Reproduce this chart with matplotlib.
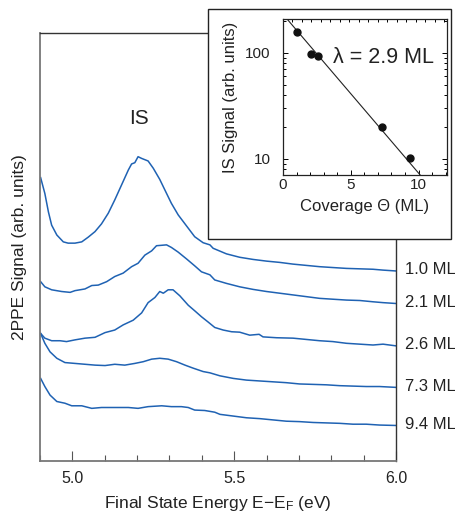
import numpy as np
import matplotlib
matplotlib.use("Agg")
import matplotlib.pyplot as plt
from matplotlib.ticker import MultipleLocator, LogLocator, NullFormatter, FixedLocator
from matplotlib.patches import Rectangle
import matplotlib.transforms as mtransforms

plt.rcParams['font.family'] = ['Liberation Sans', 'DejaVu Sans']
plt.rcParams['mathtext.fontset'] = 'custom'
plt.rcParams['mathtext.rm'] = 'Liberation Sans'
plt.rcParams['mathtext.it'] = 'Liberation Sans:italic'

TEXT = '#222222'
BLUE = '#1f62b3'

# 2PPE spectra (energy in eV, signal in arb. units, offset per coverage)
e_10 = [4.902, 4.915, 4.926, 4.936, 4.952, 4.972, 4.987, 5.008, 5.029, 5.049, 5.070, 5.090,
        5.111, 5.131, 5.152, 5.173, 5.183, 5.193, 5.203, 5.214, 5.234, 5.250, 5.270, 5.286,
        5.306, 5.327, 5.353, 5.378, 5.404, 5.425, 5.435, 5.476, 5.517, 5.558, 5.600, 5.641,
        5.682, 5.723, 5.764, 5.805, 5.847, 5.888, 5.929, 5.960, 6.000]
s_10 = [66.2, 62.5, 58.2, 55.1, 52.8, 51.2, 50.9, 50.9, 51.2, 52.3, 53.6, 55.4,
        57.9, 61.0, 64.5, 68.0, 69.4, 69.7, 71.1, 70.7, 70.1, 68.4, 65.8, 63.3,
        60.2, 57.5, 54.9, 52.4, 51.0, 50.5, 49.7, 48.4, 47.6, 47.1, 46.7, 46.4,
        46.0, 45.7, 45.4, 45.2, 45.0, 44.9, 44.8, 44.6, 44.4]

e_21 = [4.902, 4.915, 4.936, 4.967, 4.993, 5.008, 5.039, 5.060, 5.080, 5.106, 5.131, 5.157,
        5.183, 5.203, 5.224, 5.245, 5.260, 5.276, 5.291, 5.306, 5.327, 5.353, 5.378, 5.399,
        5.425, 5.440, 5.476, 5.517, 5.558, 5.600, 5.641, 5.682, 5.723, 5.764, 5.805, 5.847,
        5.888, 5.929, 5.960, 6.000]
s_21 = [41.9, 40.7, 40.0, 39.6, 39.4, 39.8, 40.2, 41.0, 41.1, 41.9, 43.1, 43.9,
        45.4, 46.2, 48.1, 49.1, 50.3, 50.4, 50.5, 49.9, 48.8, 47.2, 45.6, 44.2,
        43.5, 42.3, 41.5, 40.7, 40.1, 39.6, 39.2, 38.8, 38.4, 38.0, 37.8, 37.6,
        37.5, 37.2, 37.0, 36.8]

e_26 = [4.902, 4.915, 4.936, 4.962, 4.982, 5.008, 5.039, 5.070, 5.101, 5.131, 5.157, 5.188,
        5.214, 5.234, 5.255, 5.270, 5.281, 5.296, 5.311, 5.332, 5.358, 5.378, 5.399, 5.419,
        5.440, 5.466, 5.492, 5.517, 5.548, 5.577, 5.589, 5.631, 5.682, 5.723, 5.764, 5.805,
        5.847, 5.888, 5.929, 5.960, 6.000]
s_26 = [29.8, 28.7, 28.1, 28.1, 27.9, 28.3, 28.7, 28.9, 30.0, 30.6, 31.8, 32.9,
        34.6, 37.0, 38.2, 39.6, 39.2, 40.0, 40.0, 38.6, 36.4, 35.1, 33.7, 32.5,
        31.2, 30.6, 30.2, 30.1, 29.4, 29.6, 29.0, 28.8, 28.7, 28.4, 28.1, 27.9,
        27.5, 27.3, 27.1, 27.3, 26.9]

e_73 = [4.902, 4.915, 4.931, 4.952, 4.977, 5.008, 5.039, 5.070, 5.101, 5.131, 5.162, 5.193,
        5.219, 5.245, 5.270, 5.296, 5.322, 5.348, 5.373, 5.404, 5.425, 5.456, 5.497, 5.538,
        5.579, 5.620, 5.661, 5.702, 5.744, 5.785, 5.826, 5.867, 5.908, 5.949, 6.000]
s_73 = [29.8, 27.5, 25.5, 24.0, 23.0, 22.8, 22.6, 22.4, 22.3, 22.6, 22.4, 22.8,
        23.2, 23.8, 24.0, 23.8, 23.2, 22.4, 21.7, 20.9, 20.6, 19.9, 19.3, 18.9,
        18.7, 18.5, 18.3, 18.0, 17.9, 17.8, 17.6, 17.5, 17.4, 17.4, 17.2]

e_94 = [4.902, 4.915, 4.931, 4.952, 4.977, 4.998, 5.029, 5.060, 5.090, 5.131, 5.173, 5.203,
        5.234, 5.276, 5.306, 5.337, 5.358, 5.378, 5.409, 5.440, 5.456, 5.497, 5.538, 5.579,
        5.620, 5.661, 5.702, 5.744, 5.785, 5.826, 5.867, 5.908, 5.949, 6.000]
s_94 = [19.3, 17.4, 15.4, 13.9, 13.5, 12.9, 12.9, 12.3, 12.5, 12.5, 12.5, 12.3,
        12.7, 12.9, 12.7, 12.7, 12.5, 11.9, 11.8, 11.4, 10.9, 10.5, 10.1, 9.9,
        9.6, 9.3, 9.2, 9.0, 8.9, 8.8, 8.6, 8.6, 8.4, 8.3]

coverage_labels = ['1.0 ML', '2.1 ML', '2.6 ML', '7.3 ML', '9.4 ML']

# Image-state intensity versus coverage
theta = [1.0, 2.1, 2.6, 7.3, 9.4]
is_signal = [159, 97, 94, 19.9, 10.2]
decay_length = 2.9

fig = plt.figure(figsize=(4.56, 5.15), dpi=100)
ax = fig.add_axes([40/456, 1 - 461/515, 356/456, 428/515])
ax.set_zorder(0)

spectra = [(e_10, s_10), (e_21, s_21), (e_26, s_26), (e_73, s_73), (e_94, s_94)]
trans = mtransforms.blended_transform_factory(ax.transAxes, ax.transData)
for (e, s), lab in zip(spectra, coverage_labels):
    ax.plot(e, s, color=BLUE, lw=1.1)
    ax.text(1.025, s[-1] + 0.3, lab, transform=trans, ha='left', va='center',
            fontsize=12, color=TEXT, clip_on=False)

ax.set_xlim(4.9, 6.0)
ax.set_ylim(0, 100)
ax.xaxis.set_major_locator(FixedLocator([5.0, 5.5, 6.0]))
ax.xaxis.set_minor_locator(MultipleLocator(0.1))
ax.xaxis.set_major_formatter(plt.FuncFormatter(lambda v, p: f"{v:.1f}"))
ax.set_yticks([])
ax.tick_params(axis='x', which='major', direction='in', length=7.5, width=0.8,
               color='#555555', labelsize=11.5, labelcolor=TEXT, pad=7)
ax.tick_params(axis='x', which='minor', direction='in', length=4, width=0.8, color='#555555')
for side in ('left', 'bottom'):
    ax.spines[side].set_color('#777777')
    ax.spines[side].set_linewidth(1.3)
for side in ('top', 'right'):
    ax.spines[side].set_color('#333333')
    ax.spines[side].set_linewidth(1.0)

ax.set_xlabel('Final State Energy E\u2212E$_{\\rm F}$ (eV)', fontsize=12.5, color=TEXT, labelpad=6)
ax.set_ylabel('2PPE Signal (arb. units)', fontsize=12.5, color=TEXT, labelpad=9)
ax.text(5.206, 80.1, 'IS', fontsize=15, color=TEXT, ha='center', va='center')

# Inset frame
frame = Rectangle((208/456, 1 - 239/515), (451 - 208)/456, (239 - 9)/515,
                  transform=fig.transFigure, facecolor='white', edgecolor='#222222',
                  lw=1.0, zorder=1)
fig.patches.append(frame)

ins = fig.add_axes([283/456, 1 - 175/515, 164/456, 156/515])
ins.set_zorder(2)
ins.set_yscale('log')
ins.set_xlim(0, 12.1)
ins.set_ylim(7.06, 209)

th = np.linspace(0, 12.1, 200)
amp = np.exp(np.mean(np.log(is_signal) + np.array(theta) / decay_length))
ins.plot(th, amp * np.exp(-th / decay_length), color='#222222', lw=0.8)
ins.plot(theta, is_signal, 'o', color='#111111', ms=5)

ins.xaxis.set_major_locator(FixedLocator([0, 5, 10]))
ins.xaxis.set_minor_locator(MultipleLocator(1))
ins.yaxis.set_major_locator(FixedLocator([10, 100]))
ins.yaxis.set_minor_locator(LogLocator(base=10, subs=np.arange(2, 10)))
ins.yaxis.set_minor_formatter(NullFormatter())
ins.yaxis.set_major_formatter(plt.FuncFormatter(lambda v, p: f"{v:.0f}"))
ins.tick_params(axis='both', which='major', direction='in', length=3.5, width=0.7,
                labelsize=11, labelcolor=TEXT, right=True)
ins.tick_params(axis='both', which='minor', direction='in', length=2, width=0.7, right=True)
ins.tick_params(axis='x', which='both', top=False, pad=2)
ins.tick_params(axis='y', which='major', pad=9)
sec = ins.secondary_xaxis('top')
sec.xaxis.set_major_locator(MultipleLocator(0.7))
sec.xaxis.set_major_formatter(NullFormatter())
sec.tick_params(direction='in', length=2, width=0.7)
for sp in ins.spines.values():
    sp.set_color('#222222')
    sp.set_linewidth(0.9)
sec.spines['top'].set_visible(False)

ins.set_xlabel('Coverage \u0398 (ML)', fontsize=12, color=TEXT, labelpad=5)
ins.set_ylabel('IS Signal (arb. units)', fontsize=12, color=TEXT, labelpad=5)
ins.text(3.7, 90, '\u03bb = 2.9 ML', fontsize=15.5, color=TEXT, ha='left', va='center')

fig.savefig('out.png', dpi=100)
